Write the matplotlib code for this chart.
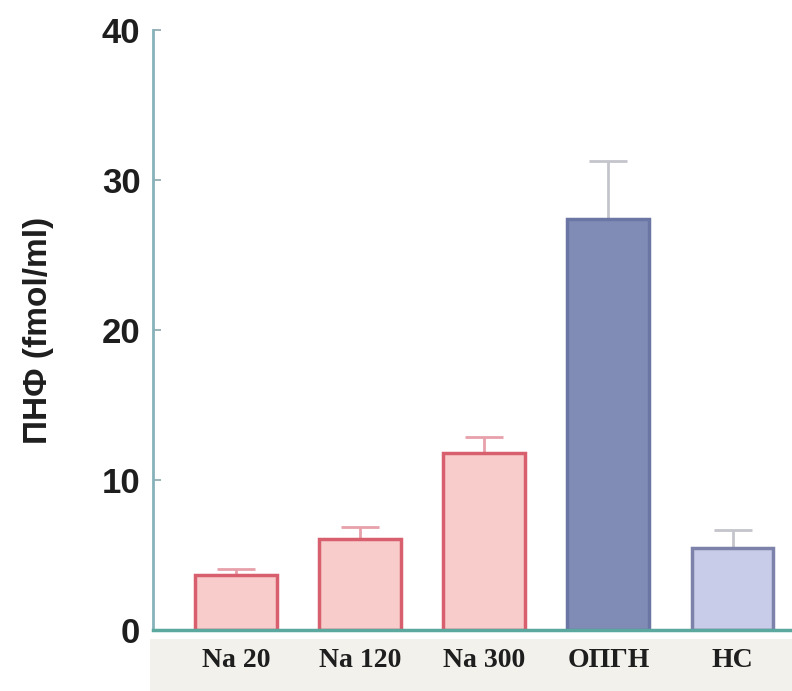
import numpy as np
import matplotlib.pyplot as plt
from matplotlib.patches import Rectangle

# data
groups = ["Na 20", "Na 120", "Na 300", "ОПГН", "НС"]
values = [3.7, 6.1, 11.8, 27.4, 5.5]
errors = [0.4, 0.8, 1.1, 3.9, 1.2]

fills = ["#f9cccc", "#f9cccc", "#f9cccc", "#808bb6", "#c9cce8"]
edges = ["#d8606e", "#d8606e", "#d8606e", "#6c76a4", "#7c82aa"]
err_cols = ["#e8a0aa", "#e8a0aa", "#e8a0aa", "#c4c4cc", "#c4c4cc"]

fig = plt.figure(figsize=(7.92, 6.91), dpi=100)
fig.patch.set_facecolor("white")

# light band behind the category labels
band = Rectangle((0.19, 0.0), 0.81, 0.075, transform=fig.transFigure,
                 facecolor="#f3f1ec", edgecolor="none", zorder=-5)
fig.patches.append(band)

ax = fig.add_axes([0.193, 0.0883, 0.804, 0.868])
ax.set_facecolor("none")
ax.set_zorder(2)

x = np.arange(len(groups))
for i in range(len(groups)):
    ax.errorbar(x[i], values[i], yerr=[[0], [errors[i]]], fmt="none",
                ecolor=err_cols[i], elinewidth=2, capsize=14, capthick=2, zorder=1)
    ax.bar(x[i], values[i], width=0.66, color=fills[i], edgecolor=edges[i],
           linewidth=2.5, zorder=2)

ax.set_xlim(-0.67, 4.46)
ax.set_ylim(0, 40)
ax.set_yticks([0, 10, 20, 30, 40])
ax.set_xticks(x)
ax.set_xticklabels(groups, family="Liberation Serif", fontweight="bold", fontsize=20)

for lab in ax.get_yticklabels():
    lab.set_family("Liberation Sans")
    lab.set_fontweight("bold")
    lab.set_fontsize(25)

ax.tick_params(axis="y", direction="in", length=6, width=1.2, color="#8aa6aa",
               pad=9, labelcolor="#1e1e1e")
ax.tick_params(axis="x", length=0, pad=13, labelcolor="#1e1e1e")

ax.spines["top"].set_visible(False)
ax.spines["right"].set_visible(False)
ax.spines["left"].set_color("#86b2ba")
ax.spines["left"].set_linewidth(2)
ax.spines["bottom"].set_color("#5aa89e")
ax.spines["bottom"].set_linewidth(2.5)

ax.set_ylabel("ПНФ (fmol/ml)", family="Liberation Sans", fontweight="bold",
              fontsize=24, color="#1e1e1e")
ax.yaxis.set_label_coords(-0.155, 0.5)

fig.savefig("out.png", dpi=100)
